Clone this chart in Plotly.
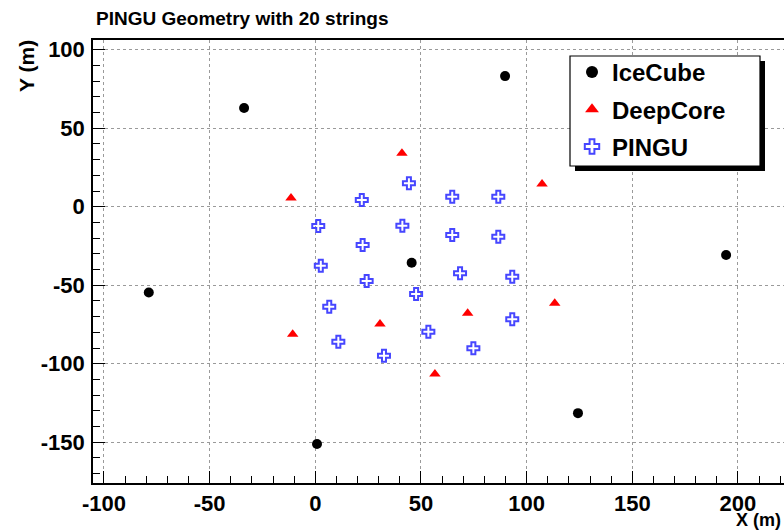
import plotly.graph_objects as go

# ---- data (metres) ----
icecube_x = [-33.7, 89.8, -78.8, 45.6, 194.4, 124.3, 0.8]
icecube_y = [62.9, 83.2, -54.6, -35.7, -30.8, -131.5, -151.2]

deepcore_x = [-11.5, 41.0, 107.3, 30.6, 72.1, 113.3, -10.7, 56.6]
deepcore_y = [5.5, 34.0, 14.5, -74.7, -67.9, -61.5, -81.3, -106.6]

pingu_x = [22.0, 44.3, 64.8, 86.6, 1.4, 41.2, 22.4, 64.8, 86.6, 2.6,
           24.3, 68.5, 93.2, 47.7, 6.6, 93.2, 10.9, 53.5, 74.8, 32.5]
pingu_y = [4.3, 14.9, 6.4, 6.4, -12.3, -12.1, -24.4, -18.0, -19.1, -37.6,
           -47.3, -42.4, -44.6, -55.6, -63.7, -71.7, -86.0, -79.6, -90.2, -94.9]

x_ticks = [-100, -50, 0, 50, 100, 150, 200]
x_tick_labels = ["-100", "-50", "0", "50", "100", "150", "200"]
y_ticks = [-150, -100, -50, 0, 50, 100]
y_tick_labels = ["-150", "-100", "-50", "0", "50", "100"]

W, H = 784, 532
L, R, T, B = 93, 0, 40, 49
FONT = "Liberation Sans"

fig = go.Figure()
fig.add_trace(go.Scatter(x=icecube_x, y=icecube_y, mode="markers", name="IceCube",
                         legendgroup="a",
                         marker=dict(symbol="circle", size=10, color="black")))
fig.add_trace(go.Scatter(x=deepcore_x, y=deepcore_y, mode="markers", name="DeepCore",
                         legendgroup="b",
                         marker=dict(symbol="triangle-up", size=10, color="#ff0000")))
fig.add_trace(go.Scatter(x=pingu_x, y=pingu_y, mode="markers", name="PINGU",
                         legendgroup="c",
                         marker=dict(symbol="cross-open", size=10, color="#4646ff",
                                     line=dict(width=2.0, color="#4a4aff"))))

pw = W - L - R
ph = H - T - B
def px(xpix):
    return (xpix - L) / pw
def py(ypix):
    return 1 - (ypix - T) / ph

# legend box with shadow
fig.add_shape(type="rect", xref="paper", yref="paper", layer="above",
              x0=px(575), x1=px(765), y0=py(61), y1=py(171),
              fillcolor="black", line=dict(width=0))
fig.add_shape(type="rect", xref="paper", yref="paper", layer="above",
              x0=px(570), x1=px(760), y0=py(56), y1=py(166),
              fillcolor="white", line=dict(color="black", width=1.2))

axis_common = dict(
    showgrid=True, gridcolor="#9a9a9a", griddash="dot", gridwidth=1,
    zeroline=False, showline=True, linecolor="black", linewidth=1.5,
    mirror=True, ticks="inside", ticklen=12, tickwidth=1, tickcolor="black",
    automargin=False,
    tickfont=dict(family=FONT, size=22, color="black", weight="bold"),
)

fig.update_xaxes(range=[-105.2, 221.8], tickvals=x_ticks, ticktext=x_tick_labels,
                 minor=dict(dtick=10, ticks="inside", ticklen=7, tickcolor="black",
                            showgrid=False),
                 ticklabelstandoff=0,
                 **axis_common)
fig.update_yaxes(range=[-176.0, 106.2], tickvals=y_ticks, ticktext=y_tick_labels,
                 minor=dict(dtick=10, ticks="inside", ticklen=7, tickcolor="black",
                            showgrid=False),
                 ticklabelstandoff=2,
                 **axis_common)

fig.add_annotation(text="Y (m)", xref="paper", yref="paper", x=px(26), y=py(38),
                   xanchor="center", yanchor="top", textangle=-90, showarrow=False,
                   font=dict(family=FONT, size=21, color="black", weight="bold"))
fig.add_annotation(text="X (m)", xref="paper", yref="paper", x=px(783), y=py(532),
                   xanchor="right", yanchor="bottom", showarrow=False,
                   font=dict(family=FONT, size=18, color="black", weight="bold"))

fig.update_layout(
    width=W, height=H,
    margin=dict(l=L, r=R, t=T, b=B, autoexpand=False),
    paper_bgcolor="white", plot_bgcolor="white",
    title=dict(text="PINGU Geometry with 20 strings", xref="container", yref="container",
               x=96 / W, xanchor="left", y=1 - 18 / H, yanchor="middle",
               font=dict(family=FONT, size=19, color="black", weight="bold")),
    legend=dict(x=px(572), y=py(50), xanchor="left", yanchor="top",
                bgcolor="rgba(0,0,0,0)", borderwidth=0, tracegroupgap=3,
                itemsizing="constant",
                font=dict(family=FONT, size=24, color="black", weight="bold")),
    showlegend=True,
)

fig.write_html("out.html", config={"displayModeBar": False},
               post_script="document.body.style.margin='0px';document.body.style.overflow='hidden';")
